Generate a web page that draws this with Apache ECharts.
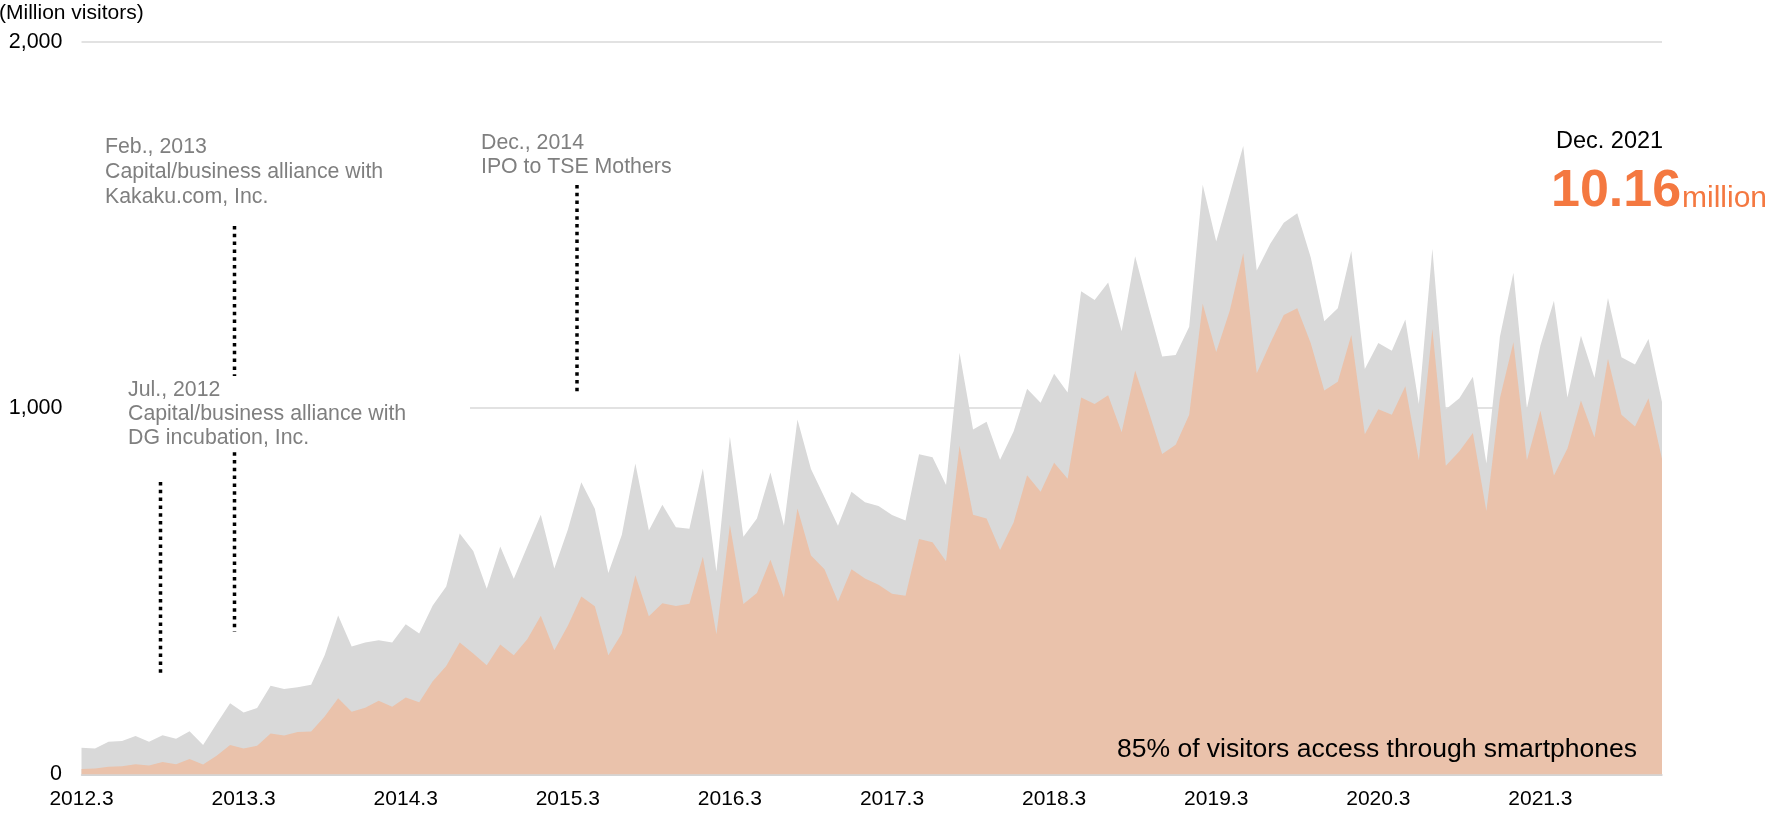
<!DOCTYPE html>
<html>
<head>
<meta charset="utf-8">
<title>Monthly visitors</title>
<script src="https://cdn.jsdelivr.net/npm/echarts@6/dist/echarts.min.js"></script>
<style>
  html, body { margin: 0; padding: 0; background: #fff; }
  #chart { width: 1775px; height: 813px; }
</style>
</head>
<body>
<div id="chart"></div>
<script>
// monthly from 2012.3 to 2021.12
const categories = []
for (let y = 2012; y <= 2021; y++) {
  for (let m = (y === 2012 ? 3 : 1); m <= 12; m++) {
    categories.push(y + '.' + m)
  }
}

// total visitors (axis in "Million visitors", 0..2,000)
const totalVisitors = [
  73, 71, 89, 91, 105, 89, 107, 97, 118, 80,
  138, 194, 169, 181, 242, 233, 238, 245, 325, 434,
  349, 360, 366, 360, 410, 385, 461, 513, 658, 610,
  507, 622, 534, 622, 709, 562, 668, 798, 725, 550,
  654, 849, 666, 736, 675, 671, 835, 554, 922, 649,
  699, 824, 679, 969, 834, 757, 679, 772, 743, 733,
  708, 693, 874, 866, 790, 1151, 942, 963, 859, 936,
  1053, 1015, 1094, 1043, 1319, 1295, 1343, 1210, 1415, 1275,
  1141, 1145, 1222, 1610, 1455, 1585, 1716, 1376, 1449, 1506,
  1532, 1411, 1237, 1273, 1429, 1107, 1178, 1157, 1242, 1011,
  1435, 997, 1027, 1086, 849, 1195, 1370, 1000, 1171, 1293,
  1029, 1198, 1083, 1301, 1139, 1119, 1189, 1017
]

// visitors through smartphones
const smartphoneVisitors = [
  15, 16, 21, 22, 28, 24, 34, 28, 42, 27,
  51, 80, 71, 78, 112, 106, 116, 117, 158, 208,
  171, 182, 201, 185, 210, 197, 254, 296, 360, 330,
  298, 355, 325, 369, 433, 339, 406, 486, 459, 325,
  385, 544, 432, 467, 460, 466, 594, 383, 681, 465,
  495, 586, 483, 726, 598, 560, 472, 560, 535, 518,
  493, 488, 643, 634, 582, 897, 709, 699, 613, 688,
  817, 772, 851, 807, 1029, 1011, 1035, 934, 1103, 991,
  875, 900, 982, 1285, 1153, 1266, 1423, 1095, 1177, 1254,
  1273, 1177, 1048, 1072, 1200, 929, 997, 982, 1060, 858,
  1216, 843, 882, 932, 719, 1027, 1180, 858, 993, 816,
  890, 1021, 920, 1135, 982, 950, 1027, 861
]

const yTicks = [0, 1000, 2000]

const FONT = "'Liberation Sans', Arial, sans-serif"
const GREY_TEXT = '#7f7f7f'
const ORANGE = '#f47840'

const chart = echarts.init(document.getElementById('chart'), null, { renderer: 'canvas' })

function fmt(v) { return v.toLocaleString('en-US') }

function dotted(x, y1, y2) {
  return {
    type: 'line',
    z: 40,
    shape: { x1: x, y1: y1, x2: x, y2: y2 },
    style: { stroke: '#000', lineWidth: 3.5, lineDash: [3.5, 4.3] },
    silent: true
  }
}

function note(x, y, text, lh, size, color, weight) {
  return {
    type: 'text',
    z: 100,
    x: x,
    y: y,
    silent: true,
    style: {
      text: text,
      font: (weight || 'normal') + ' ' + size + 'px ' + FONT,
      fill: color,
      lineHeight: lh,
      align: 'left',
      verticalAlign: 'top'
    }
  }
}

chart.setOption({
  animation: false,
  grid: { left: 81.5, right: 113, top: 41.9, bottom: 38.6, containLabel: false },
  xAxis: {
    type: 'category',
    boundaryGap: false,
    data: categories,
    axisTick: { show: false },
    axisLine: { lineStyle: { color: '#d0d0d0', width: 1.5 } },
    axisLabel: {
      interval: function (idx, val) { return /\.3$/.test(val) },
      margin: 14,
      fontSize: 21,
      fontFamily: FONT,
      color: '#000'
    },
    splitLine: { show: false }
  },
  yAxis: {
    type: 'value',
    min: yTicks[0],
    max: yTicks[yTicks.length - 1],
    interval: 1000,
    axisLine: { show: false },
    axisTick: { show: false },
    axisLabel: {
      margin: 19,
      align: 'right',
      showMinLabel: false,
      fontSize: 21.5,
      fontFamily: FONT,
      color: '#000',
      formatter: fmt
    },
    splitLine: { show: true, lineStyle: { color: '#d9d9d9', width: 1.5 } }
  },
  series: [
    {
      name: 'Total visitors',
      type: 'line',
      data: totalVisitors,
      showSymbol: false,
      lineStyle: { width: 0 },
      areaStyle: { color: '#d9d9d9', opacity: 1 },
      z: 2
    },
    {
      name: 'Smartphone visitors',
      type: 'line',
      data: smartphoneVisitors,
      showSymbol: false,
      lineStyle: { width: 0 },
      areaStyle: { color: '#eac2ab', opacity: 1 },
      z: 3
    }
  ],
  graphic: [
    dotted(160.5, 482, 677),
    dotted(234.5, 226, 632),
    dotted(577, 185, 393),
    // white box behind the Jul. 2012 note
    {
      type: 'rect',
      z: 50,
      silent: true,
      shape: { x: 80, y: 376, width: 390, height: 76 },
      style: { fill: '#fff' }
    },
    // zero label kept next to the origin
    {
      type: 'text',
      z: 100,
      x: 62,
      y: 774.4,
      silent: true,
      style: {
        text: fmt(yTicks[0]),
        font: '21.5px ' + FONT,
        fill: '#000',
        align: 'right',
        verticalAlign: 'middle'
      }
    },
    note(-1, 2, '(Million visitors)', 22, 21, '#000'),
    note(105, 135, 'Feb., 2013\nCapital/business alliance with\nKakaku.com, Inc.', 25, 21.3, GREY_TEXT),
    note(128, 378, 'Jul., 2012\nCapital/business alliance with\nDG incubation, Inc.', 24, 21.3, GREY_TEXT),
    note(481, 131, 'Dec., 2014\nIPO to TSE Mothers', 24, 21.3, GREY_TEXT),
    note(1556, 129, 'Dec. 2021', 25, 23.5, '#000'),
    note(1551, 166, '10.16', 52, 52, ORANGE, 'bold'),
    note(1682, 184, 'million', 30, 30, ORANGE),
    note(1117, 736, '85% of visitors access through smartphones', 28, 26.5, '#000')
  ]
})
</script>
</body>
</html>
